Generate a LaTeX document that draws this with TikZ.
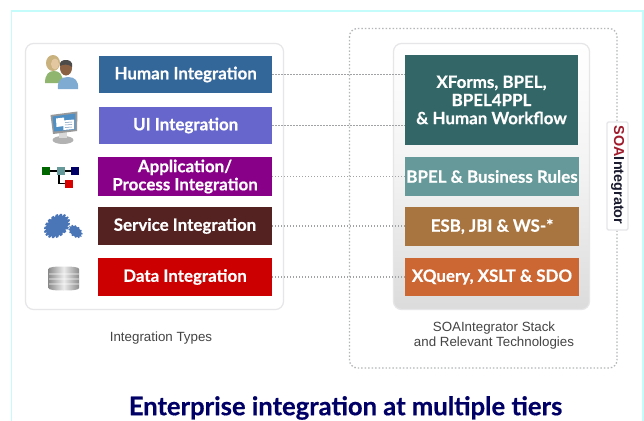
\documentclass[tikz,border=0pt]{standalone}
\usepackage{fontspec}
\setmainfont{Liberation Sans}
\newfontfamily\gillf[BoldFeatures={FakeBold=0.5}]{Lato}
\usetikzlibrary{shadings}
\definecolor{framecyan}{HTML}{C4FBFB}
\definecolor{panelline}{HTML}{E6E6E8}
\definecolor{dotgray}{HTML}{A0A2A4}
\definecolor{outerdot}{HTML}{B4B6B8}
\definecolor{captiontxt}{HTML}{444444}
\definecolor{titleblue}{HTML}{000066}
\definecolor{cHuman}{HTML}{336699}
\definecolor{cUI}{HTML}{6666CC}
\definecolor{cApp}{HTML}{880088}
\definecolor{cService}{HTML}{552222}
\definecolor{cData}{HTML}{CC0000}
\definecolor{cXForms}{HTML}{336666}
\definecolor{cBpel}{HTML}{669999}
\definecolor{cEsb}{HTML}{A87440}
\definecolor{cXQuery}{HTML}{CC6633}
\definecolor{gearblue}{HTML}{4A76B8}
\definecolor{womangreen}{HTML}{8FB56F}
\definecolor{womanhair}{HTML}{C9B27E}
\definecolor{womanskin}{HTML}{E3C7A0}
\definecolor{manblue}{HTML}{7FAAD2}
\definecolor{manskin}{HTML}{8A6142}
\definecolor{manhair}{HTML}{4D4A4A}
\definecolor{screenblue}{HTML}{4F8FC4}
\tikzset{
  x=0.75pt,y=-0.75pt,
  bar/.style={anchor=north west,inner sep=0pt,outer sep=0pt,text=white,align=center,
     font=\gillf\bfseries\fontsize{12.7}{13.6}\selectfont},
  conn/.style={draw=dotgray,line width=0.8pt,dash pattern=on 1pt off 1.25pt},
  outerbox/.style={draw=outerdot,line width=1pt,dash pattern=on 1.1pt off 1.5pt},
  panel/.style={rounded corners=6pt,line width=0.9pt,draw=panelline},
  caption/.style={inner sep=0pt,align=center,text=captiontxt,font=\fontsize{10}{11.2}\selectfont},
}
\newcommand{\gearicon}[3]{% radius, tooth step, colour
  \fill[#3] (0:#1)
   \foreach \a in {0,#2,...,359}{
     -- (\a-5:#1) -- (\a+5:#1) -- (\a+9:0.84*#1) -- (\a+#2-9:0.84*#1)
   } -- cycle;
}
\begin{document}
\begin{tikzpicture}
\useasboundingbox (0,0) rectangle (644,421);
\fill[white] (0,0) rectangle (644,421);
% frame
\draw[framecyan,line width=1pt] (11.5,421) -- (11.5,11) -- (643,11) -- (643,421);
% outer dotted box
\draw[outerbox,rounded corners=6pt] (349.5,28.5) rectangle (617,368);
% panels
\draw[panel,fill=white] (25.5,43.5) rectangle (283.5,309.5);
\draw[panel,top color=white,bottom color=black!14,middle color=black!5] (393.5,43.5) rectangle (589.5,309.5);
% tab
\draw[draw=panelline,line width=1pt,fill=white,rounded corners=1pt] (607,122) rectangle (628,230);
\node[rotate=-90,inner sep=0pt,font=\bfseries\fontsize{10.8}{11}\selectfont] (tab) at (617.5,175)
   {\textcolor[HTML]{A01C2C}{SOA}\textcolor[HTML]{1A1A2E}{Integrator}};
% bars left
\node[bar,fill=cHuman,minimum width=130pt,minimum height=27.75pt] (human) at (99,56) {Human Integration};
\node[bar,fill=cUI,minimum width=130pt,minimum height=27.75pt] (ui) at (99,107) {UI Integration};
\node[bar,fill=cApp,minimum width=130.5pt,minimum height=29.25pt] (app) at (98,157) {Application/\\Process Integration};
\node[bar,fill=cService,minimum width=130.5pt,minimum height=28.5pt] (service) at (98,207) {Service Integration};
\node[bar,fill=cData,minimum width=130.5pt,minimum height=28.5pt] (data) at (98,258) {Data Integration};
% bars right
\node[bar,fill=cXForms,minimum width=129.75pt,minimum height=67.5pt] (xforms) at (405,55) {XForms, BPEL,\\BPEL4PPL\\\& Human Workflow};
\node[bar,fill=cBpel,minimum width=130.5pt,minimum height=29.25pt] (bpel) at (405,157) {BPEL \& Business Rules};
\node[bar,fill=cEsb,minimum width=130.5pt,minimum height=29.25pt] (esb) at (405,207) {ESB, JBI \& WS-*};
\node[bar,fill=cXQuery,minimum width=130.5pt,minimum height=28.5pt] (xquery) at (405,258) {XQuery, XSLT \& SDO};
% connectors
\draw[conn] (human.east) -- (human.east -| xforms.west);
\draw[conn] (ui.east) -- (ui.east -| xforms.west);
\draw[conn] (app.east) -- (app.east -| bpel.west);
\draw[conn] (service.east) -- (service.east -| esb.west);
\draw[conn] (data.east) -- (data.east -| xquery.west);
% captions
\node[caption] (types) at (161,338) {Integration Types};
\node[caption] (stack) at (494,336) {SOAIntegrator Stack\\and Relevant Technologies};
\node[inner sep=0pt,text=titleblue,font=\gillf\bfseries\fontsize{19.2}{21}\selectfont] (title) at (345.5,408) {Enterprise integration at multiple tiers};
% people icon
\fill[womangreen] (45,83) .. controls (45,74) and (49,71) .. (54,71) .. controls (59,71) and (63,74) .. (63,83) -- cycle;
\fill[womanhair] (53,63) ellipse (7 and 8);
\fill[womanskin] (55,64) ellipse (4 and 5.5);
\fill[manblue] (58,89) .. controls (57,81) and (61,77) .. (68,77) .. controls (75,77) and (79,81) .. (78,89) -- cycle;
\fill[manskin] (66,68) ellipse (6 and 7.5);
\fill[manhair] (60,66) .. controls (59,61) and (63,60) .. (66,60) .. controls (70,60) and (73,62) .. (72,67) .. controls (69,64) and (63,64) .. (60,66) -- cycle;
% monitor icon
\fill[black!30] (63,140) ellipse (10.5 and 4);
\fill[black!15] (59,132) rectangle (67,138);
\fill[black!40] (50.5,115) -- (77.5,111.5) -- (77,131) -- (53,134) -- cycle;
\fill[screenblue] (52.5,116.5) -- (75.5,113.5) -- (75.3,129.5) -- (54,131.5) -- cycle;
\fill[white] (56,118.5) -- (64,117.5) -- (64,126) -- (56.5,127) -- cycle;
\fill[white] (63,120.5) -- (74,119.5) -- (74,129) -- (63.5,130) -- cycle;
\draw[cHuman!70,line width=0.4pt] (65,122.5) -- (72,122) (65,125) -- (72,124.5) (65,127.5) -- (72,127);
% flow icon
\draw[black,line width=1pt] (46,171) -- (75,171) (59,171) -- (59,183.5) -- (69,183.5);
\fill[green!40!black] (42,167) rectangle (50,175);
\fill[cBpel] (56.5,167) rectangle (64.5,175);
\fill[titleblue] (71,167) rectangle (79,175);
\fill[red!85!black] (65,179.5) rectangle (73,187.5);
% gears icon
\begin{scope}[shift={(57,226)},rotate=40,yscale=0.72]
  \gearicon{14.5}{20}{gearblue}
\end{scope}
\begin{scope}[shift={(75.5,231.5)},rotate=-40,yscale=0.68]
  \gearicon{8}{30}{gearblue}
\end{scope}
% database icon
\shade[left color=black!45,right color=black!45,middle color=black!8] (48.5,269) .. controls (48.5,267) and (55,266.5) .. (63.8,266.5) .. controls (72,266.5) and (79,267) .. (79,269) -- (79,288) .. controls (79,290) and (72,290.5) .. (63.8,290.5) .. controls (55,290.5) and (48.5,290) .. (48.5,288) -- cycle;
\draw[white,opacity=0.35,line width=0.8pt] (49,274) -- (78.5,274) (49,279) -- (78.5,279) (49,284) -- (78.5,284);
\end{tikzpicture}
\end{document}
